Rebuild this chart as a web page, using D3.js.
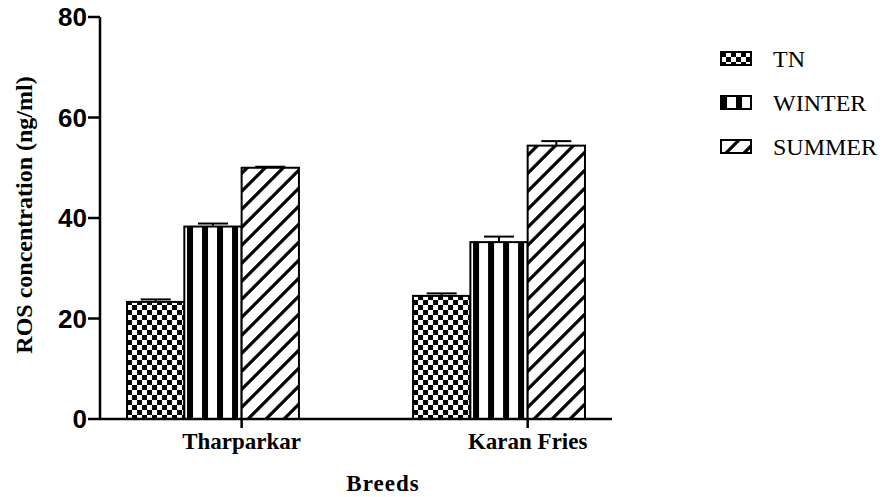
<!DOCTYPE html>
<html>
<head>
<meta charset="utf-8">
<script src="https://cdn.jsdelivr.net/npm/d3@7"></script>
<style>
  body { margin: 0; background: #fff; }
  svg { display: block; }
</style>
</head>
<body>
<div id="chart"></div>
<script>
const breeds = ["Tharparkar", "Karan Fries"];
const seasons = ["TN", "WINTER", "SUMMER"];
const means = [
    [23.3, 38.3, 50.0],   // Tharparkar
    [24.5, 35.2, 54.4]    // Karan Fries
];
const errors = [
    [0.5, 0.6, 0.2],
    [0.5, 1.1, 0.9]
];
const yTicks = [0, 20, 40, 60, 80];

const width = 882, height = 497;
const serif = "'Liberation Serif', 'Times New Roman', serif";

const svg = d3.select("#chart")
    .append("svg")
    .attr("width", width)
    .attr("height", height);

// --- patterns (checker / vertical bars / diagonal hatch) ---
const defs = svg.append("defs");

const checker = defs.append("pattern")
    .attr("id", "p-TN")
    .attr("patternUnits", "userSpaceOnUse")
    .attr("width", 10).attr("height", 10);
checker.append("rect").attr("width", 10).attr("height", 10).attr("fill", "#fff");
checker.append("rect").attr("width", 5).attr("height", 5).attr("fill", "#000");
checker.append("rect").attr("x", 5).attr("y", 5).attr("width", 5).attr("height", 5).attr("fill", "#000");

const stripes = defs.append("pattern")
    .attr("id", "p-WINTER")
    .attr("patternUnits", "userSpaceOnUse")
    .attr("width", 15).attr("height", 10);
stripes.append("rect").attr("width", 15).attr("height", 10).attr("fill", "#fff");
stripes.append("rect").attr("x", 0).attr("width", 6).attr("height", 10).attr("fill", "#000");

const hatch = defs.append("pattern")
    .attr("id", "p-SUMMER")
    .attr("patternUnits", "userSpaceOnUse")
    .attr("width", 18).attr("height", 18);
hatch.append("rect").attr("width", 18).attr("height", 18).attr("fill", "#fff");
hatch.append("path")
    .attr("d", "M-2,20 L20,-2 M-5,5 L5,-5 M13,23 L23,13")
    .attr("stroke", "#000")
    .attr("stroke-width", 3.2);

// --- scales ---
const y = d3.scaleLinear().domain([0, 80]).range([419, 17]);

const x0 = d3.scaleBand()
    .domain(breeds)
    .range([99, 613])
    .paddingInner(0.399)
    .paddingOuter(0.098);
const x1 = d3.scaleBand()
    .domain(seasons)
    .range([0, x0.bandwidth()]);

// tick sits at the WINTER/SUMMER edge, as in the original
const tickX = d => x0(d) + x1("SUMMER");

const axisLeft = 100, axisRight = 612;

// --- bars ---
const groups = svg.selectAll(".grp")
    .data(breeds)
    .enter().append("g")
    .attr("transform", d => `translate(${x0(d)},0)`);

groups.each(function(b, bi) {
    const g = d3.select(this);
    seasons.forEach((s, si) => {
        const v = means[bi][si], e = errors[bi][si];
        const cx = x1(s) + x1.bandwidth() / 2;
        // error bar (upper only)
        g.append("line")
            .attr("x1", cx).attr("x2", cx)
            .attr("y1", y(v)).attr("y2", y(v + e))
            .attr("stroke", "#000").attr("stroke-width", 2);
        g.append("line")
            .attr("x1", cx - 15).attr("x2", cx + 15)
            .attr("y1", y(v + e)).attr("y2", y(v + e))
            .attr("stroke", "#000").attr("stroke-width", 2);
        g.append("rect")
            .attr("x", x1(s))
            .attr("y", y(v))
            .attr("width", x1.bandwidth())
            .attr("height", y(0) - y(v))
            .attr("fill", `url(#p-${s})`)
            .attr("stroke", "#000")
            .attr("stroke-width", 2);
    });
});

// --- axes ---
svg.append("line")
    .attr("x1", axisLeft).attr("x2", axisLeft)
    .attr("y1", y(80)).attr("y2", y(0))
    .attr("stroke", "#000").attr("stroke-width", 2.5);
svg.append("line")
    .attr("x1", axisLeft).attr("x2", axisRight)
    .attr("y1", y(0)).attr("y2", y(0))
    .attr("stroke", "#000").attr("stroke-width", 2.5);

const yt = svg.selectAll(".ytick").data(yTicks).enter().append("g");
yt.append("line")
    .attr("x1", axisLeft - 12).attr("x2", axisLeft)
    .attr("y1", d => y(d)).attr("y2", d => y(d))
    .attr("stroke", "#000").attr("stroke-width", 2.5);
yt.append("text")
    .attr("x", axisLeft - 13)
    .attr("y", d => y(d))
    .attr("dy", "0.36em")
    .attr("text-anchor", "end")
    .style("font-family", "'Liberation Sans', Arial, sans-serif")
    .style("font-weight", "700")
    .style("font-size", "26px")
    .text(d => d);

const xt = svg.selectAll(".xtick").data(breeds).enter().append("g");
xt.append("line")
    .attr("x1", tickX).attr("x2", tickX)
    .attr("y1", y(0)).attr("y2", y(0) + 9)
    .attr("stroke", "#000").attr("stroke-width", 2.5);
xt.append("text")
    .attr("x", tickX)
    .attr("y", 449)
    .attr("text-anchor", "middle")
    .style("font-family", serif)
    .style("font-weight", "700")
    .style("font-size", "23px")
    .text(d => d);

svg.append("text")
    .attr("x", 383)
    .attr("y", 491)
    .attr("text-anchor", "middle")
    .style("font-family", serif)
    .style("font-weight", "700")
    .style("font-size", "23px")
    .style("letter-spacing", "1px")
    .text("Breeds");

svg.append("text")
    .attr("transform", "translate(32,215) rotate(-90)")
    .attr("text-anchor", "middle")
    .style("font-family", serif)
    .style("font-weight", "700")
    .style("font-size", "24px")
    .text("ROS concentration (ng/ml)");

// --- legend ---
const legend = svg.append("g").attr("transform", "translate(721,0)");
const li = legend.selectAll(".li").data(seasons).enter().append("g")
    .attr("transform", (d, i) => `translate(0,${52 + i * 44})`);
li.append("rect")
    .attr("width", 30).attr("height", 13)
    .attr("fill", d => `url(#p-${d})`)
    .attr("stroke", "#000").attr("stroke-width", 2);
li.append("text")
    .attr("x", 52)
    .attr("y", 15)
    .style("font-family", serif)
    .style("font-size", "24px")
    .text(d => d);
</script>
</body>
</html>
